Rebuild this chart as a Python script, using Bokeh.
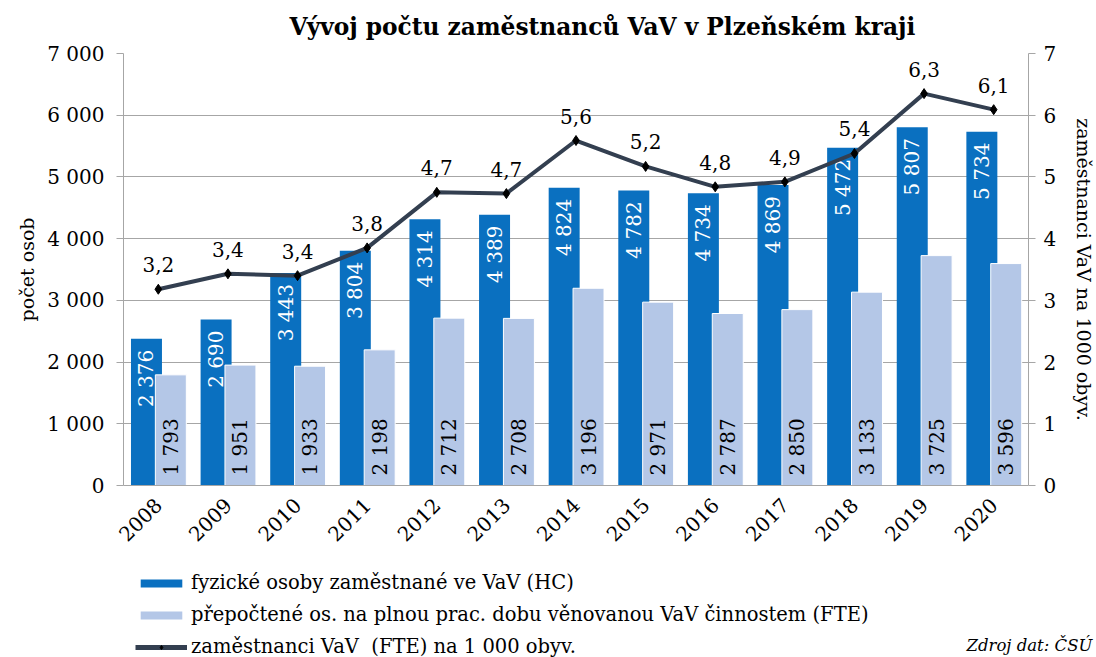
from math import pi
from bokeh.plotting import figure
from bokeh.layouts import column
from bokeh.models import (ColumnDataSource, FactorRange, Range1d, LinearAxis, FixedTicker,
                          Legend, LegendItem)
from bokeh.transform import dodge
from bokeh.embed import file_html
from bokeh.resources import INLINE

years = ["2008", "2009", "2010", "2011", "2012", "2013", "2014", "2015", "2016", "2017", "2018", "2019", "2020"]
hc = [2376, 2690, 3443, 3804, 4314, 4389, 4824, 4782, 4734, 4869, 5472, 5807, 5734]
fte = [1793, 1951, 1933, 2198, 2712, 2708, 3196, 2971, 2787, 2850, 3133, 3725, 3596]
per1000 = [3.18, 3.43, 3.40, 3.85, 4.75, 4.73, 5.59, 5.17, 4.84, 4.92, 5.38, 6.35, 6.09]
per1000_labels = ["3,2", "3,4", "3,4", "3,8", "4,7", "4,7", "5,6", "5,2", "4,8", "4,9", "5,4", "6,3", "6,1"]
left_ticks = [0, 1000, 2000, 3000, 4000, 5000, 6000, 7000]
left_tick_labels = ["0", "1 000", "2 000", "3 000", "4 000", "5 000", "6 000", "7 000"]
right_ticks = [0, 1, 2, 3, 4, 5, 6, 7]

title_text = "Vývoj počtu zaměstnanců VaV v Plzeňském kraji"
left_label = "počet osob"
right_label = "zaměstnanci VaV na 1000 obyv."
legend_labels = ["fyzické osoby zaměstnané ve VaV (HC)",
                 "přepočtené os. na plnou prac. dobu věnovanou VaV činnostem (FTE)",
                 "zaměstnanci VaV  (FTE) na 1 000 obyv."]
source_text = "Zdroj dat: ČSÚ"

def fmt(v):
    return f"{v:,}".replace(",", " ")

src = ColumnDataSource(dict(year=years, hc=hc, fte=fte, r=per1000, rl=per1000_labels,
                            hcl=[fmt(v) for v in hc], ftel=[fmt(v) for v in fte],
                            zero=[0] * len(years)))

FONT = "DejaVu Serif"
HC_COLOR = "#0A70C0"
FTE_COLOR = "#B4C7E7"
LINE_COLOR = "#333F50"
GRID = "#A6A6A6"

p = figure(frame_width=905, frame_height=432, x_range=FactorRange(*years), y_range=Range1d(0, 7000),
           output_backend="svg", toolbar_location=None,
           min_border_left=123, min_border_right=68, min_border_top=53, min_border_bottom=75)
p.extra_y_ranges = {"right": Range1d(0, 7)}
p.outline_line_color = None
p.background_fill_color = "white"
p.border_fill_color = "white"

p.title.text = title_text
p.title.text_font = FONT
p.title.text_font_size = "23.3px"
p.title.text_font_style = "bold"
p.title.text_color = "black"
p.title.align = "left"
p.title.offset = 166
p.title.vertical_align = "top"
p.title.standoff = 24

# bars
hc_r = p.vbar(x=dodge("year", -0.17, range=p.x_range), top="hc", width=0.445, source=src,
              fill_color=HC_COLOR, line_color=None)
fte_r = p.vbar(x=dodge("year", 0.18, range=p.x_range), top="fte", width=0.445, source=src,
               fill_color=FTE_COLOR, line_color="white", line_width=1)

# bar labels
p.text(x=dodge("year", -0.17, range=p.x_range), y="hc", text="hcl", source=src, angle=pi / 2,
       text_align="right", text_baseline="middle", y_offset=11,
       text_font={"value": FONT}, text_font_size="20px", text_color="white")
p.text(x=dodge("year", 0.18, range=p.x_range), y="zero", text="ftel", source=src, angle=pi / 2,
       text_align="left", text_baseline="middle", y_offset=-10,
       text_font={"value": FONT}, text_font_size="20px", text_color="black")

# line
ln = p.line(x="year", y="r", source=src, y_range_name="right", line_color=LINE_COLOR, line_width=4)
mk = p.scatter(x="year", y="r", source=src, y_range_name="right", marker="diamond", size=10,
               fill_color="black", line_color="black")
p.text(x="year", y="r", text="rl", source=src, y_range_name="right", text_align="center",
       text_baseline="bottom", y_offset=-17, text_font={"value": FONT}, text_font_size="20px",
       text_color="black")

# axes
p.yaxis.ticker = FixedTicker(ticks=left_ticks)
p.yaxis.major_label_overrides = {t: l for t, l in zip(left_ticks, left_tick_labels)}
p.ygrid.ticker = FixedTicker(ticks=left_ticks)
p.ygrid.grid_line_color = GRID
p.xgrid.grid_line_color = None

ya = p.yaxis[0]
ya.axis_label = left_label
ya.axis_label_text_font = FONT
ya.axis_label_text_font_size = "19px"
ya.axis_label_text_font_style = "normal"
ya.axis_label_text_color = "black"
ya.major_label_text_font = FONT
ya.major_label_text_font_size = "20px"
ya.major_label_text_color = "black"
ya.axis_line_color = GRID
ya.major_tick_line_color = GRID
ya.major_tick_out = 7
ya.major_tick_in = 0
ya.minor_tick_line_color = None
ya.major_label_standoff = 12
ya.axis_label_standoff = 6

ra = LinearAxis(y_range_name="right", ticker=FixedTicker(ticks=right_ticks), axis_label=right_label)
ra.axis_label_text_font = FONT
ra.axis_label_text_font_size = "19px"
ra.axis_label_text_font_style = "normal"
ra.axis_label_text_color = "black"
ra.major_label_text_font = FONT
ra.major_label_text_font_size = "20px"
ra.major_label_text_color = "black"
ra.axis_line_color = GRID
ra.major_tick_line_color = GRID
ra.major_tick_out = 7
ra.major_tick_in = 0
ra.minor_tick_line_color = None
ra.major_label_standoff = 8
ra.axis_label_standoff = 14
p.add_layout(ra, "right")

xa = p.xaxis[0]
xa.major_label_orientation = pi / 4
xa.major_label_text_font = FONT
xa.major_label_text_font_size = "20px"
xa.major_label_text_color = "black"
xa.axis_line_color = GRID
xa.major_tick_line_color = None
xa.major_label_standoff = 10

# legend panel below the chart (its frame lines up with the chart frame)
p2 = figure(width=1096, height=97, x_range=Range1d(0, 1), y_range=Range1d(0, 97),
            output_backend="svg", toolbar_location=None, min_border=0)
p2.xaxis.visible = False
p2.yaxis.visible = False
p2.grid.visible = False
p2.outline_line_color = None
p2.border_fill_color = "white"
p2.background_fill_color = None

nan = float("nan")
lg1 = p2.vbar(x=[nan], top=[nan], width=1, fill_color=HC_COLOR, line_color=None)
lg2 = p2.vbar(x=[nan], top=[nan], width=1, fill_color=FTE_COLOR, line_color=None)
lg3 = p2.line(x=[nan, nan], y=[nan, nan], line_color=LINE_COLOR, line_width=5)
lg4 = p2.scatter(x=[nan], y=[nan], marker="diamond", size=9, fill_color="black", line_color="black")

legend = Legend(items=[LegendItem(label=legend_labels[0], renderers=[lg1]),
                       LegendItem(label=legend_labels[1], renderers=[lg2]),
                       LegendItem(label=legend_labels[2], renderers=[lg3, lg4])],
                location=(12, -1), orientation="vertical")
legend.label_text_font = FONT
legend.label_text_font_size = "19.5px"
legend.label_text_color = "black"
legend.glyph_width = 52
legend.glyph_height = 10
legend.spacing = 9
legend.label_standoff = 4
legend.border_line_color = None
legend.background_fill_alpha = 0
legend.padding = 0
legend.margin = 0
p2.add_layout(legend)

# source note, drawn as the single label of a bare axis on the right of the legend panel
note_ticks = [12]
note_axis = LinearAxis(ticker=FixedTicker(ticks=note_ticks),
                       major_label_overrides={note_ticks[0]: source_text})
note_axis.axis_line_color = None
note_axis.major_tick_line_color = None
note_axis.minor_tick_line_color = None
note_axis.major_tick_out = 0
note_axis.major_tick_in = 0
note_axis.major_label_standoff = -60
note_axis.major_label_text_font = FONT
note_axis.major_label_text_font_size = "16.5px"
note_axis.major_label_text_font_style = "italic"
note_axis.major_label_text_color = "black"
p2.add_layout(note_axis, "right")

layout = column(p, p2, spacing=0)
open("out.html", "w").write(file_html(layout, INLINE))
